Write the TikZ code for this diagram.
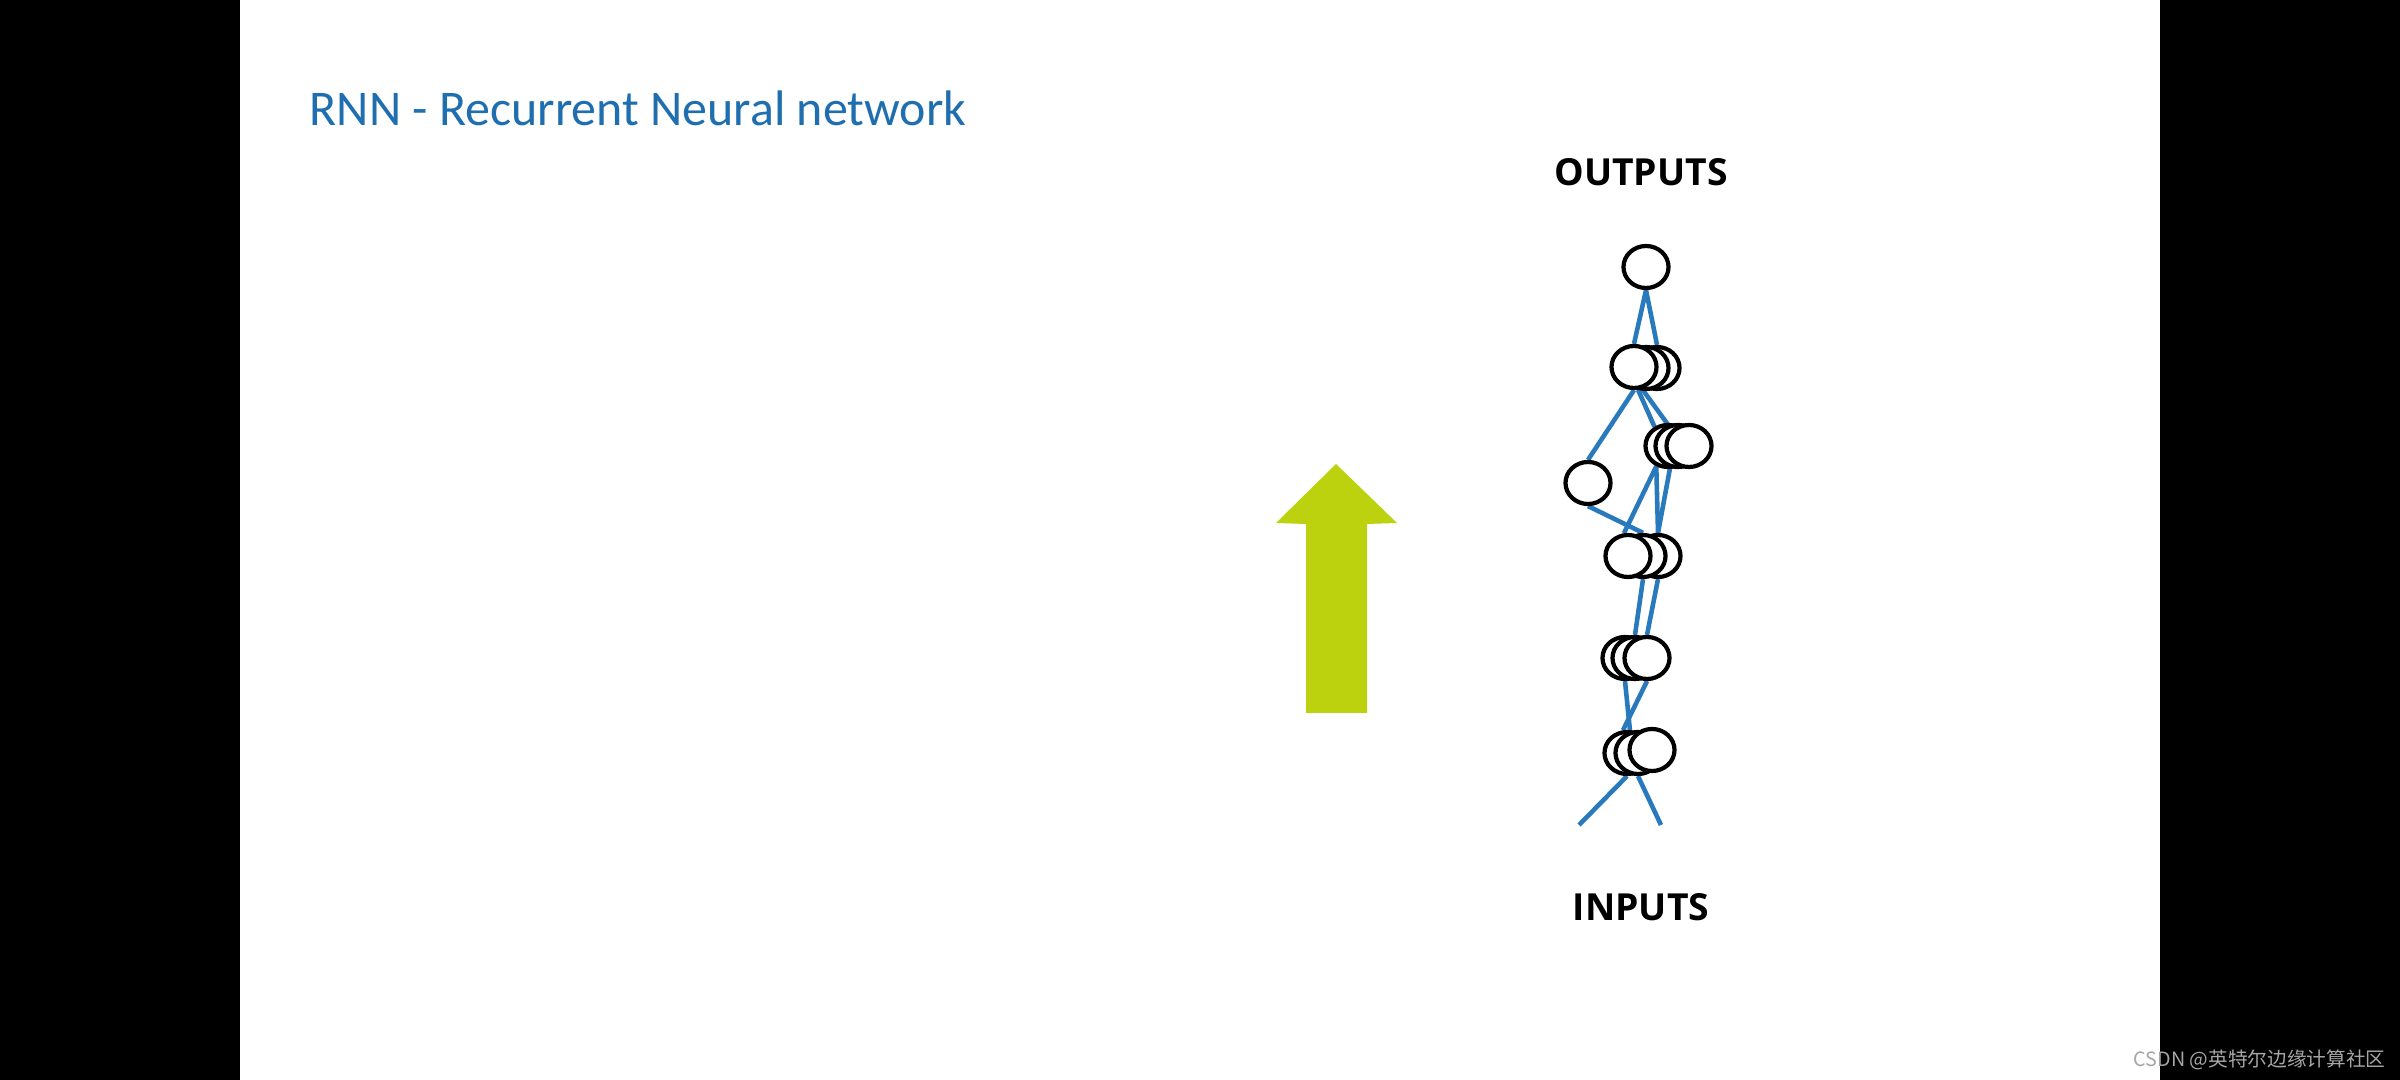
\documentclass[tikz,border=0pt]{standalone}
\usepackage{fontspec}
\setmainfont{Carlito}
\newfontfamily\labelfont{Open Sans}
\newfontfamily\cjkfont{Noto Sans CJK SC}
\usetikzlibrary{shapes.geometric}

\definecolor{titleblue}{RGB}{31,111,176}
\definecolor{linkblue}{RGB}{40,122,188}
\definecolor{arrowgreen}{RGB}{188,210,14}

\pgfdeclarelayer{paper}
\pgfdeclarelayer{background}
\pgfsetlayers{paper,background,main}

\begin{document}
\begin{tikzpicture}[x=0.01cm, y=-0.01cm,
	unit/.style={ellipse, draw=black, fill=white, line width=1.2pt, minimum width=0.45cm, minimum height=0.42cm, inner sep=0pt},
	link/.style={linkblue, line width=1.3pt},
	caption/.style={font=\labelfont\bfseries\fontsize{10.6}{12}\selectfont, anchor=base}]

	\useasboundingbox (0,0) rectangle (2400,1080);
	\begin{pgfonlayer}{paper}
		\fill[black] (0,0) rectangle (2400,1080);
		\fill[white] (240,0) rectangle (2160,1080);
	\end{pgfonlayer}

	% title
	\node[anchor=base west, inner sep=0pt, text=titleblue, font=\fontsize{14.2}{17}\selectfont] (title) at (309,126) {RNN - Recurrent Neural network};

	% big arrow
	\fill[arrowgreen] (1306,713) -- (1306,524) -- (1276,523) -- (1336,464) -- (1397,523) -- (1367,524) -- (1367,713) -- cycle;

	% labels
	\node[caption] (outputs) at (1641,186) {OUTPUTS};
	\node[caption] (inputs) at (1641,920) {INPUTS};

	% units, back to front
	\node[unit] (top) at (1646,267) {};

	\node[unit] (l2c) at (1657,368) {};
	\node[unit] (l2b) at (1646,368) {};
	\node[unit] (l2a) at (1634,367) {};

	\node[unit] (l3a) at (1668,446) {};
	\node[unit] (l3b) at (1678,446) {};
	\node[unit] (l3c) at (1689,446) {};

	\node[unit] (lone) at (1588,483) {};

	\node[unit] (l4c) at (1658,556) {};
	\node[unit] (l4b) at (1643,556) {};
	\node[unit] (l4a) at (1628,556) {};

	\node[unit] (l5a) at (1625,658) {};
	\node[unit] (l5b) at (1635,658) {};
	\node[unit] (l5c) at (1647,658) {};

	\node[unit] (l6a) at (1627,753) {};
	\node[unit] (l6b) at (1638,753) {};
	\node[unit] (l6c) at (1652,750) {};

	\coordinate (in1) at (1579,825);
	\coordinate (in2) at (1661,825);

	% links
	\begin{pgfonlayer}{background}
		\draw[link] (top.south) -- (l2a.north);
		\draw[link] (top.south) -- (l2c.north);
		\draw[link] (l2a.south) -- (lone.north);
		\draw[link] (l2a.-80) -- (l3a.125);
		\draw[link] (l2a.-70) -- (l3b.115);
		\draw[link] (lone.south) -- (l4b.north);
		\draw[link] (l3a.-120) -- (l4a.100);
		\draw[link] (l3a.-120) -- (l4c.north);
		\draw[link] (l3b.-110) -- (l4c.north);
		\draw[link] (l4b.south) -- (l5b.north);
		\draw[link] (l4c.south) -- (l5c.north);
		\draw[link] (l5a.south) -- (l6b.110);
		\draw[link] (l5c.south) -- (l6a.100);
		\draw[link] (l6a.south) -- (in1);
		\draw[link] (l6b.south) -- (in2);
	\end{pgfonlayer}

	% watermark
	\node[anchor=base west, inner sep=0pt, text=gray!70, font=\cjkfont\fontsize{5.6}{7}\selectfont] (mark) at (2133,1066) {CSDN @英特尔边缘计算社区};
\end{tikzpicture}
\end{document}
